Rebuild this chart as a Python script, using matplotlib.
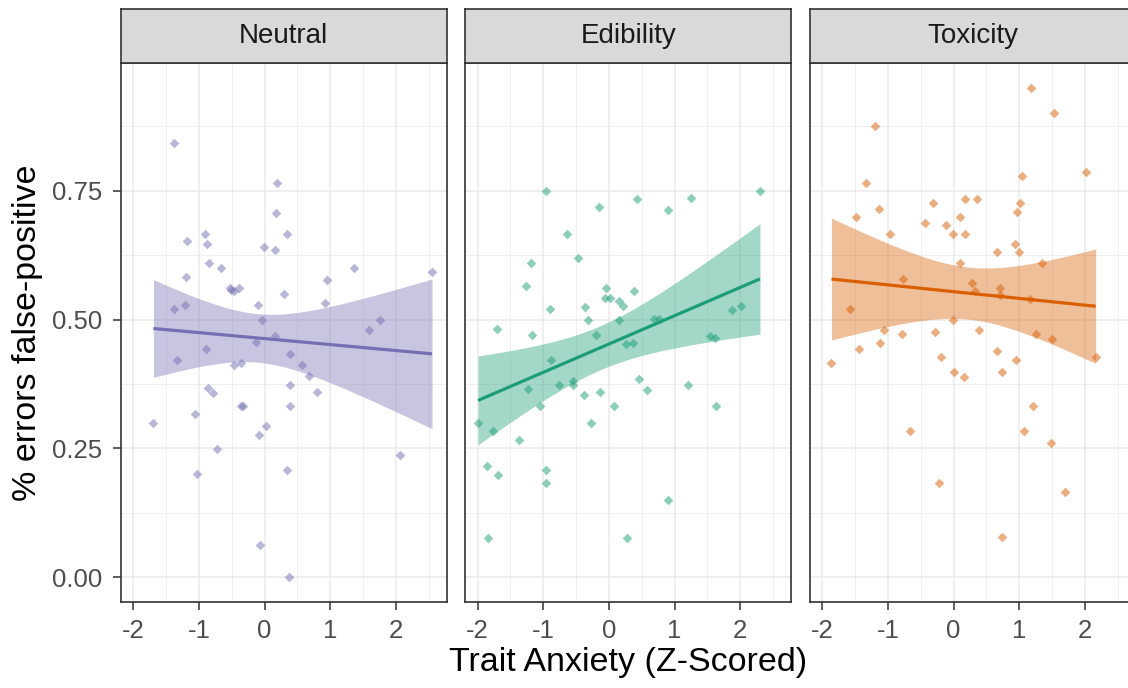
import numpy as np
import matplotlib
matplotlib.use("Agg")
import matplotlib.pyplot as plt

plt.rcParams['font.family'] = ['Liberation Sans', 'DejaVu Sans']

panels = ["Neutral", "Edibility", "Toxicity"]
colors = ["#7570B3", "#1B9E77", "#D95F02"]

neutral_x = [-1.384, 0.188, 0.168, -0.912, 0.345, -1.176, -0.882, -0.010, 0.163, -0.846,
             -0.669, 1.364, 2.551, -1.201, 0.958, -0.532, -0.390, -0.510, -0.470, 0.289,
             0.913, -1.384, -1.217, -0.106, -0.040, 1.764, 1.592, 0.163, -0.126, -0.891,
             -1.338, 0.391, -0.471, -0.354, 0.573, 0.680, 0.391, -0.856, -0.780, 0.797,
             -0.359, -0.324, 0.380, -1.064, -1.693, 0.015, -0.081, -0.730, 2.069, -1.034,
             0.335, -0.065, 0.365]
neutral_y = [0.842, 0.765, 0.706, 0.666, 0.666, 0.653, 0.647, 0.640, 0.636, 0.609,
             0.600, 0.600, 0.592, 0.583, 0.577, 0.562, 0.562, 0.557, 0.555, 0.550,
             0.533, 0.520, 0.529, 0.529, 0.499, 0.499, 0.480, 0.468, 0.457, 0.443,
             0.421, 0.434, 0.411, 0.416, 0.411, 0.391, 0.374, 0.368, 0.357, 0.360,
             0.333, 0.333, 0.333, 0.317, 0.300, 0.294, 0.277, 0.249, 0.237, 0.200,
             0.209, 0.062, 0.000]

edibility_x = [-0.954, 2.301, 0.430, 1.252, -0.152, 0.902, -0.645, -0.467, -1.182, -1.258,
               -0.046, 0.380, -0.061, 0.010, 0.157, 0.213, -0.360, -0.893, 2.008, 1.875,
               -0.325, 0.157, 0.694, 0.760, -1.709, -1.166, -0.193, 1.545, 1.621, 0.263,
               0.374, -0.882, 0.466, 1.211, -0.756, -0.553, -0.543, -1.227, 0.578, -0.132,
               -0.380, -1.045, 0.076, 1.637, -1.993, -0.269, -1.770, -1.366, -1.855, -0.954,
               -1.688, -0.958, 0.902, -1.836, 0.278]
edibility_y = [0.750, 0.750, 0.734, 0.737, 0.719, 0.713, 0.666, 0.619, 0.610, 0.565,
               0.562, 0.556, 0.541, 0.541, 0.536, 0.526, 0.524, 0.521, 0.526, 0.518,
               0.499, 0.499, 0.501, 0.501, 0.481, 0.470, 0.470, 0.468, 0.464, 0.453,
               0.454, 0.421, 0.384, 0.374, 0.374, 0.381, 0.374, 0.366, 0.364, 0.360,
               0.353, 0.333, 0.333, 0.333, 0.300, 0.300, 0.284, 0.266, 0.216, 0.209,
               0.199, 0.182, 0.149, 0.076, 0.076]

toxicity_x = [1.176, 1.526, -1.202, 2.012, 1.044, -1.328, -0.319, 0.172, 0.354, 1.019,
              -1.141, 0.963, -1.480, 0.091, -0.441, -0.117, -0.005, 0.172, -0.968, 0.933,
              0.994, 0.659, 1.354, 0.091, -0.776, 0.279, 0.710, 0.319, 0.700, 1.166,
              -1.571, -0.015, -1.060, -0.780, -0.289, 0.391, 1.258, 1.495, 2.164, -1.860,
              -1.440, -1.121, -0.198, 0.654, 0.948, 0.005, 0.730, 0.157, 1.212, -0.669,
              1.065, 1.486, -0.228, 1.703, 0.741]
toxicity_y = [0.950, 0.901, 0.875, 0.786, 0.778, 0.765, 0.727, 0.734, 0.734, 0.727,
              0.714, 0.708, 0.700, 0.700, 0.687, 0.683, 0.666, 0.666, 0.666, 0.647,
              0.631, 0.631, 0.610, 0.609, 0.579, 0.572, 0.562, 0.556, 0.547, 0.540,
              0.521, 0.499, 0.480, 0.473, 0.476, 0.479, 0.473, 0.463, 0.428, 0.416,
              0.443, 0.454, 0.428, 0.440, 0.422, 0.399, 0.399, 0.388, 0.333, 0.284,
              0.284, 0.260, 0.182, 0.166, 0.079]

x_ticks = [-2, -1, 0, 1, 2]
x_tick_labels = ["-2", "-1", "0", "1", "2"]
y_ticks = [0.00, 0.25, 0.50, 0.75]
y_tick_labels = ["0.00", "0.25", "0.50", "0.75"]

data = [(neutral_x, neutral_y), (edibility_x, edibility_y), (toxicity_x, toxicity_y)]

W, H = 1128, 688
fig = plt.figure(figsize=(W / 100, H / 100), dpi=100)

panel_lefts = [121, 465.3, 810]
panel_w = 325.7
panel_top, panel_bot = 63.3, 601.7
strip_top = 9.3

xlim = (-2.187, 2.774)
ylim = (-0.0475, 0.9975)

dark = "#333333"
gridc = "#EBEBEB"


def fit_band(x, y, n_grid=100):
    x = np.asarray(x, float)
    y = np.asarray(y, float)
    n = len(x)
    b1, b0 = np.polyfit(x, y, 1)
    resid = y - (b0 + b1 * x)
    df = n - 2
    s = np.sqrt(np.sum(resid ** 2) / df)
    xbar = x.mean()
    sxx = np.sum((x - xbar) ** 2)
    xs = np.linspace(x.min(), x.max(), n_grid)
    yhat = b0 + b1 * xs
    se = s * np.sqrt(1.0 / n + (xs - xbar) ** 2 / sxx)
    tq = 1.96 + 2.4 / df
    return xs, yhat, yhat - tq * se, yhat + tq * se


for i, (name, col, (xv, yv)) in enumerate(zip(panels, colors, data)):
    left = panel_lefts[i]
    ax = fig.add_axes([left / W, (H - panel_bot) / H, panel_w / W, (panel_bot - panel_top) / H])
    ax.set_xlim(*xlim)
    ax.set_ylim(*ylim)
    ax.set_xticks(x_ticks)
    ax.set_xticklabels(x_tick_labels)
    ax.set_xticks([-1.5, -0.5, 0.5, 1.5, 2.5], minor=True)
    ax.set_yticks(y_ticks)
    ax.set_yticks([0.125, 0.375, 0.625, 0.875], minor=True)
    ax.grid(which="major", color=gridc, linewidth=1.1, zorder=0)
    ax.grid(which="minor", color=gridc, linewidth=0.55, zorder=0)
    ax.set_axisbelow(True)
    ax.tick_params(axis="x", which="major", length=5.8, width=1.1, color=dark,
                   labelsize=18.5, labelcolor="#4D4D4D", pad=6.5)
    ax.tick_params(which="minor", length=0)
    if i == 0:
        ax.set_yticklabels(y_tick_labels)
        ax.tick_params(axis="y", which="major", length=5.8, width=1.1, color=dark,
                       labelsize=18.5, labelcolor="#4D4D4D", pad=8)
    else:
        ax.tick_params(axis="y", which="major", length=0, labelleft=False)
    for sp in ax.spines.values():
        sp.set_color(dark)
        sp.set_linewidth(1.2)

    ax.scatter(xv, yv, marker="D", s=24, color=col, alpha=0.5, linewidths=0, zorder=2)
    xs, yhat, lo, hi = fit_band(xv, yv)
    ax.fill_between(xs, lo, hi, color=col, alpha=0.4, linewidth=0, zorder=3)
    ax.plot(xs, yhat, color=col, linewidth=2.3, zorder=4, solid_capstyle="butt")

    sax = fig.add_axes([left / W, (H - panel_top) / H, panel_w / W, (panel_top - strip_top) / H])
    sax.set_facecolor("#D9D9D9")
    sax.set_xticks([])
    sax.set_yticks([])
    for sp in sax.spines.values():
        sp.set_color(dark)
        sp.set_linewidth(1.2)
    sax.text(0.5, 0.5, name, ha="center", va="center", fontsize=20, color="#1A1A1A",
             transform=sax.transAxes)

fig.text(628 / W, (H - 663) / H, "Trait Anxiety (Z-Scored)", ha="center", va="center",
         fontsize=24.5, color="black")
fig.text(28 / W, (H - 332.5) / H, "% errors false-positive", ha="center", va="center",
         rotation=90, fontsize=24.5, color="black")

fig.savefig("out.png", dpi=100)
